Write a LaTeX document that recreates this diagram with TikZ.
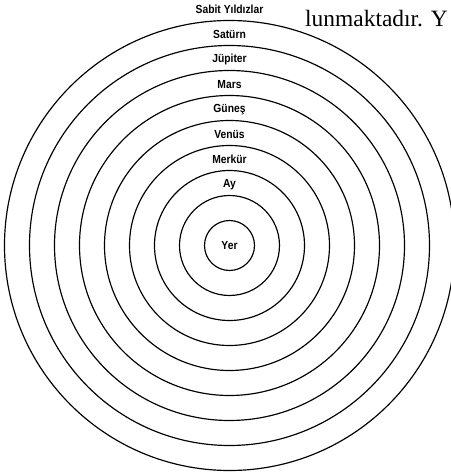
\documentclass[tikz,border=0pt]{standalone}
\usepackage{fontspec}
\newfontfamily\spherefont[FakeStretch=0.88]{Liberation Sans}
\newfontfamily\pagefont{Liberation Serif}
\tikzset{sphere/.style={font=\spherefont\bfseries\fontsize{10}{11}\selectfont,inner sep=0pt}}

\begin{document}
\begin{tikzpicture}[scale=.03]
  \useasboundingbox (-229.5,-228.5) rectangle (221.5,245.5);
  \clip (-229.5,-228.5) rectangle (221.5,245.5);
  \foreach \r in {1,...,9}
           {\draw [line width=1pt] (0,0) circle (25*\r);}
  \node[sphere] (yer) at (0,0) {Yer};
  \foreach \name/\txt [count=\i] in {ay/Ay,merkur/Merkür,venus/Venüs,gunes/Güneş,
           mars/Mars,jupiter/Jüpiter,saturn/Satürn,sabit/Sabit Yıldızlar}
           {\node[sphere] (\name) at (0,25*\i+36) {\txt};}
  %
  \node[font=\pagefont\fontsize{20}{22}\selectfont,anchor=base west,inner sep=0pt]
       (page) at (75.5,218.5) {lunmaktadır. Y};
\end{tikzpicture}
\end{document}
